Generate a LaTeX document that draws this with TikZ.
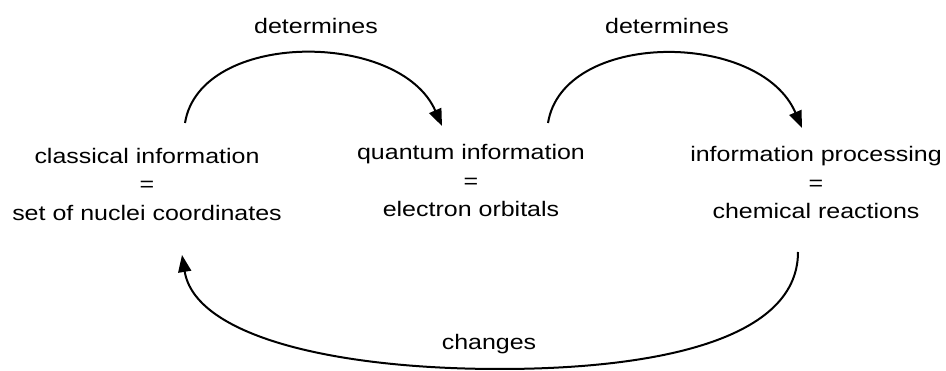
\documentclass[tikz,border=0pt]{standalone}
\usepackage{fontspec}
\setmainfont{Liberation Sans}
\usetikzlibrary{arrows.meta}
\newcommand{\wx}[1]{\scalebox{1.19}[1.0]{#1}}
\tikzset{
  txt/.style={inner sep=0pt, align=center, font=\fontsize{21}{28.5}\selectfont},
  lbl/.style={inner sep=0pt, anchor=base, font=\fontsize{21}{28.5}\selectfont},
  arc/.style={line width=2pt, -{Triangle[length=17pt,width=13pt]}}
}
\begin{document}
\begin{tikzpicture}[x=1pt,y=-1pt]
\useasboundingbox (0,0) rectangle (946,371);
\node[txt] (cl) at (147,184.3) {\wx{classical information}\\ \wx{=}\\ \wx{set of nuclei coordinates}};
\node[txt] (qu) at (471,180.9) {\wx{quantum information}\\ \wx{=}\\ \wx{electron orbitals}};
\node[txt] (ip) at (816,182.9) {\wx{information processing}\\ \wx{=}\\ \wx{chemical reactions}};
\node[lbl] (d1) at (316,34) {\wx{determines}};
\node[lbl] (d2) at (667,34) {\wx{determines}};
\node[lbl] (ch) at (489,350) {\wx{changes}};
\coordinate (a1s) at (185,123);
\coordinate (a1e) at (442,126);
\coordinate (a2s) at (548,123);
\coordinate (a2e) at (802,128);
\coordinate (a3s) at (798,252);
\coordinate (a3m) at (500,369);
\coordinate (a3e) at (182,255);
\draw[arc] (a1s) .. controls (200,30) and (400,30) .. (a1e);
\draw[arc] (a2s) .. controls (563,30) and (760,30) .. (a2e);
\draw[arc] (a3s) .. controls (798,345) and (640,369) .. (a3m)
  .. controls (330,369) and (195,335) .. (a3e);
\end{tikzpicture}
\end{document}
